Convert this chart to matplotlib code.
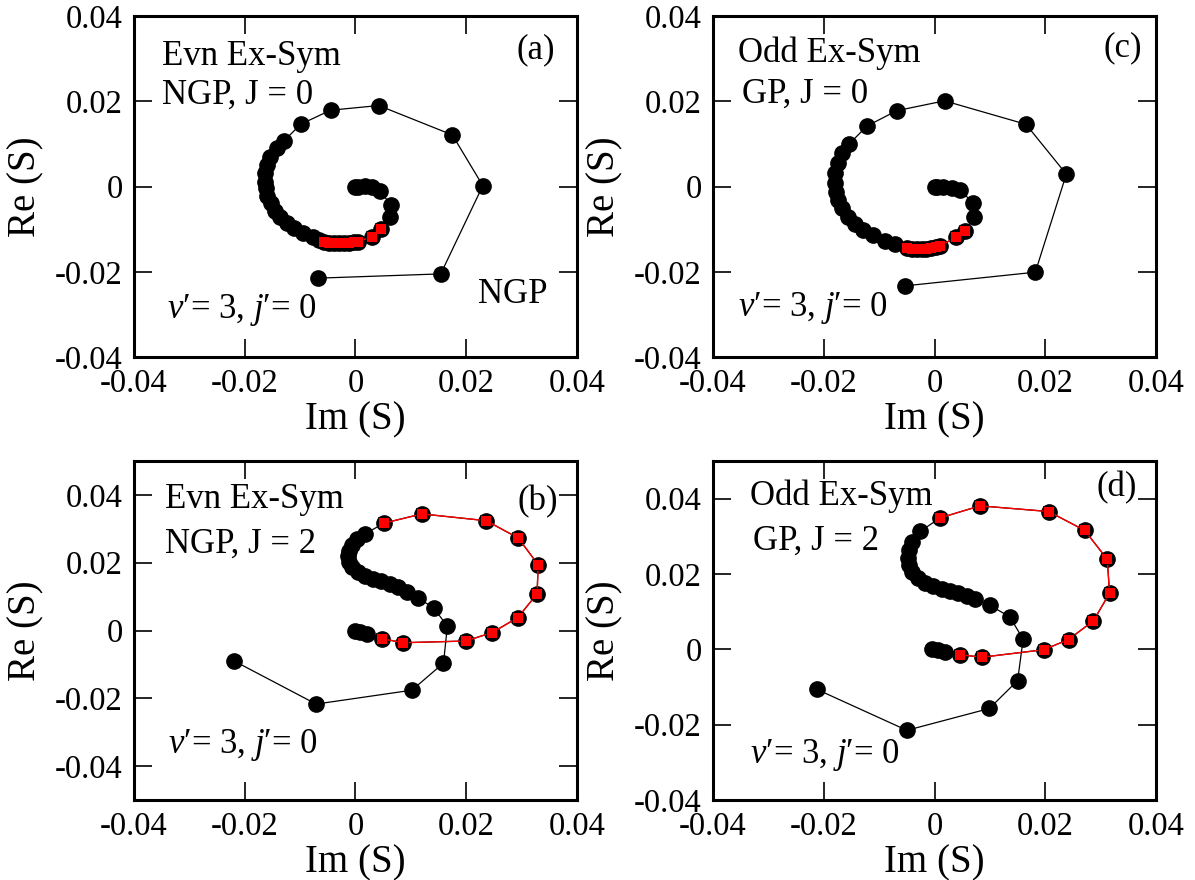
import matplotlib
matplotlib.use("Agg")
import matplotlib.pyplot as plt
from matplotlib.ticker import FixedLocator, FuncFormatter

plt.rcParams['font.family'] = ['Liberation Serif', 'DejaVu Serif']
plt.rcParams['mathtext.fontset'] = 'custom'
plt.rcParams['mathtext.rm'] = 'Liberation Serif'
plt.rcParams['mathtext.it'] = 'Liberation Serif:italic'
plt.rcParams['axes.unicode_minus'] = False

# ---------------- data: Im(S), Re(S) ----------------
im_a = [-0.0068, 0.0154, 0.0230, 0.0175, 0.0042, -0.0045, -0.0099, -0.0129, -0.0142, -0.0154,
        -0.0160, -0.0163, -0.0163, -0.0162, -0.0159, -0.0153, -0.0145, -0.0136, -0.0124, -0.0111,
        -0.0094, -0.0076, -0.0066,
        -0.0057, -0.0048, -0.0039, -0.0030, -0.0021, -0.0012, -0.0003, 0.0005, 0.0030, 0.0047,
        0.0062, 0.0064, 0.0044, 0.0029, 0.0017, 0.0005, 0.0000]
re_a = [-0.0215, -0.0205, 0.0002, 0.0121, 0.0190, 0.0179, 0.0146, 0.0107, 0.0090, 0.0070,
        0.0050, 0.0031, 0.0011, -0.0004, -0.0022, -0.0039, -0.0057, -0.0072, -0.0086, -0.0098,
        -0.0110, -0.0119, -0.0125,
        -0.0130, -0.0132, -0.0133, -0.0133, -0.0133, -0.0133, -0.0131, -0.0129, -0.0118, -0.0100,
        -0.0071, -0.0043, -0.0010, 0.0000, 0.0002, 0.0000, 0.0000]
red_a = (23, 33)

im_c = [-0.0053, 0.0182, 0.0238, 0.0165, 0.0018, -0.0068, -0.0122, -0.0154, -0.0168, -0.0175,
        -0.0180, -0.0180, -0.0178, -0.0175, -0.0168, -0.0157, -0.0144, -0.0129, -0.0111, -0.0089,
        -0.0071,
        -0.0050, -0.0041, -0.0032, -0.0023, -0.0015, -0.0006, 0.0002, 0.0010, 0.0038, 0.0055,
        0.0071, 0.0070, 0.0046, 0.0031, 0.0016, 0.0004, 0.0000]
re_c = [-0.0233, -0.0201, 0.0029, 0.0146, 0.0201, 0.0178, 0.0142, 0.0100, 0.0078, 0.0054,
        0.0031, 0.0008, -0.0012, -0.0032, -0.0051, -0.0071, -0.0088, -0.0102, -0.0114, -0.0127,
        -0.0135,
        -0.0145, -0.0147, -0.0147, -0.0147, -0.0147, -0.0145, -0.0143, -0.0140, -0.0119, -0.0104,
        -0.0072, -0.0039, -0.0008, -0.0004, -0.0002, 0.0000, 0.0000]
red_c = (21, 31)

im_b = [-0.0219, -0.0071, 0.0102, 0.0159, 0.0166, 0.0141, 0.0113, 0.0093, 0.0077, 0.0062,
        0.0047, 0.0032, 0.0018, 0.0005, -0.0006, -0.0012, -0.0013, -0.0012, -0.0007, 0.0002,
        0.0017,
        0.0052, 0.0120, 0.0236, 0.0294, 0.0330, 0.0328, 0.0293, 0.0247, 0.0199, 0.0086, 0.0048,
        0.0020, 0.0008, 0.0000]
re_b = [-0.0090, -0.0217, -0.0176, -0.0096, 0.0013, 0.0067, 0.0096, 0.0114, 0.0128, 0.0137,
        0.0145, 0.0153, 0.0162, 0.0173, 0.0186, 0.0202, 0.0219, 0.0236, 0.0253, 0.0271,
        0.0285,
        0.0317, 0.0344, 0.0324, 0.0273, 0.0194, 0.0108, 0.0038, -0.0006, -0.0031, -0.0036, -0.0024,
        -0.0011, -0.0004, 0.0000]
red_b = (21, 32)

im_d = [-0.0213, -0.0050, 0.0099, 0.0150, 0.0160, 0.0136, 0.0100, 0.0073, 0.0058, 0.0043,
        0.0028, 0.0013, -0.0002, -0.0017, -0.0030, -0.0041, -0.0047, -0.0048, -0.0046, -0.0041,
        -0.0026,
        0.0010, 0.0082, 0.0206, 0.0271, 0.0312, 0.0316, 0.0287, 0.0242, 0.0197, 0.0085, 0.0046,
        0.0019, 0.0007, -0.0005]
re_d = [-0.0106, -0.0215, -0.0157, -0.0083, 0.0027, 0.0086, 0.0117, 0.0133, 0.0141, 0.0149,
        0.0155, 0.0161, 0.0168, 0.0177, 0.0190, 0.0205, 0.0223, 0.0243, 0.0265, 0.0284,
        0.0313,
        0.0349, 0.0381, 0.0366, 0.0316, 0.0239, 0.0149, 0.0076, 0.0026, -0.0001, -0.0021, -0.0014,
        -0.0008, -0.0003, 0.0001]
red_d = (21, 32)

ticks = [-0.04, -0.02, 0.0, 0.02, 0.04]

# ---------------- figure ----------------
fig = plt.figure(figsize=(11.95, 8.8), dpi=100)
ax_a = fig.add_axes([0.1121, 0.5943, 0.3707, 0.3875])
ax_c = fig.add_axes([0.5967, 0.5943, 0.3707, 0.3875])
ax_b = fig.add_axes([0.1121, 0.0909, 0.3707, 0.3852])
ax_d = fig.add_axes([0.5967, 0.0909, 0.3707, 0.3852])

fmt = FuncFormatter(lambda v, p: "0" if abs(v) < 1e-9 else f"{v:.2f}")

TXT = 25
TICK = 23.5
LAB = 28

def draw(ax, im, re, red, ylim, texts):
    ax.plot(im, re, color='black', lw=0.9, marker='o', ms=11, mfc='black',
            mec='black', zorder=2)
    s, e = red
    ax.plot(im[s:e], re[s:e], color='red', lw=1.0, zorder=3)
    ax.plot(im[s:e], re[s:e], ls='none', marker='s', ms=7.5, mfc='red',
            mec='black', mew=1.2, zorder=4)
    ax.plot(im[s:e], re[s:e], ls='none', marker='s', ms=7.5, mfc='red',
            mec='none', mew=0, zorder=5)
    ax.set_xlim(-0.04, 0.04)
    ax.set_ylim(*ylim)
    ax.xaxis.set_major_locator(FixedLocator(ticks))
    ax.yaxis.set_major_locator(FixedLocator(ticks))
    ax.xaxis.set_major_formatter(fmt)
    ax.yaxis.set_major_formatter(fmt)
    ax.tick_params(direction='in', length=13, width=1.2, top=True, right=True,
                   labelsize=TICK, pad=8)
    for sp in ax.spines.values():
        sp.set_linewidth(2.2)
    ax.set_xlabel("Im (S)", fontsize=LAB, labelpad=2)
    ax.set_ylabel("Re (S)", fontsize=LAB, labelpad=8)
    for (x, y, t, ha) in texts:
        ax.text(x, y, t, transform=ax.transAxes, fontsize=TXT, ha=ha, va='baseline')

vj = "$v$\u2032= 3, $j$\u2032= 0"

draw(ax_a, im_a, re_a, red_a, (-0.04, 0.04), [
    (0.063, 0.856, "Evn Ex-Sym", 'left'),
    (0.063, 0.742, "NGP, J = 0", 'left'),
    (0.950, 0.877, "(a)", 'right'),
    (0.777, 0.158, "NGP", 'left'),
    (0.074, 0.114, vj, 'left'),
])
draw(ax_c, im_c, re_c, red_c, (-0.04, 0.04), [
    (0.056, 0.866, "Odd Ex-Sym", 'left'),
    (0.065, 0.746, "GP, J = 0", 'left'),
    (0.968, 0.881, "(c)", 'right'),
    (0.056, 0.120, vj, 'left'),
])
draw(ax_b, im_b, re_b, red_b, (-0.05, 0.05), [
    (0.070, 0.860, "Evn Ex-Sym", 'left'),
    (0.070, 0.728, "NGP, J = 2", 'left'),
    (0.958, 0.855, "(b)", 'right'),
    (0.077, 0.138, vj, 'left'),
])
draw(ax_d, im_d, re_d, red_d, (-0.04, 0.05), [
    (0.0835, 0.870, "Odd Ex-Sym", 'left'),
    (0.091, 0.737, "GP, J = 2", 'left'),
    (0.956, 0.897, "(d)", 'right'),
    (0.0835, 0.108, vj, 'left'),
])

fig.savefig("out.png", dpi=100)
